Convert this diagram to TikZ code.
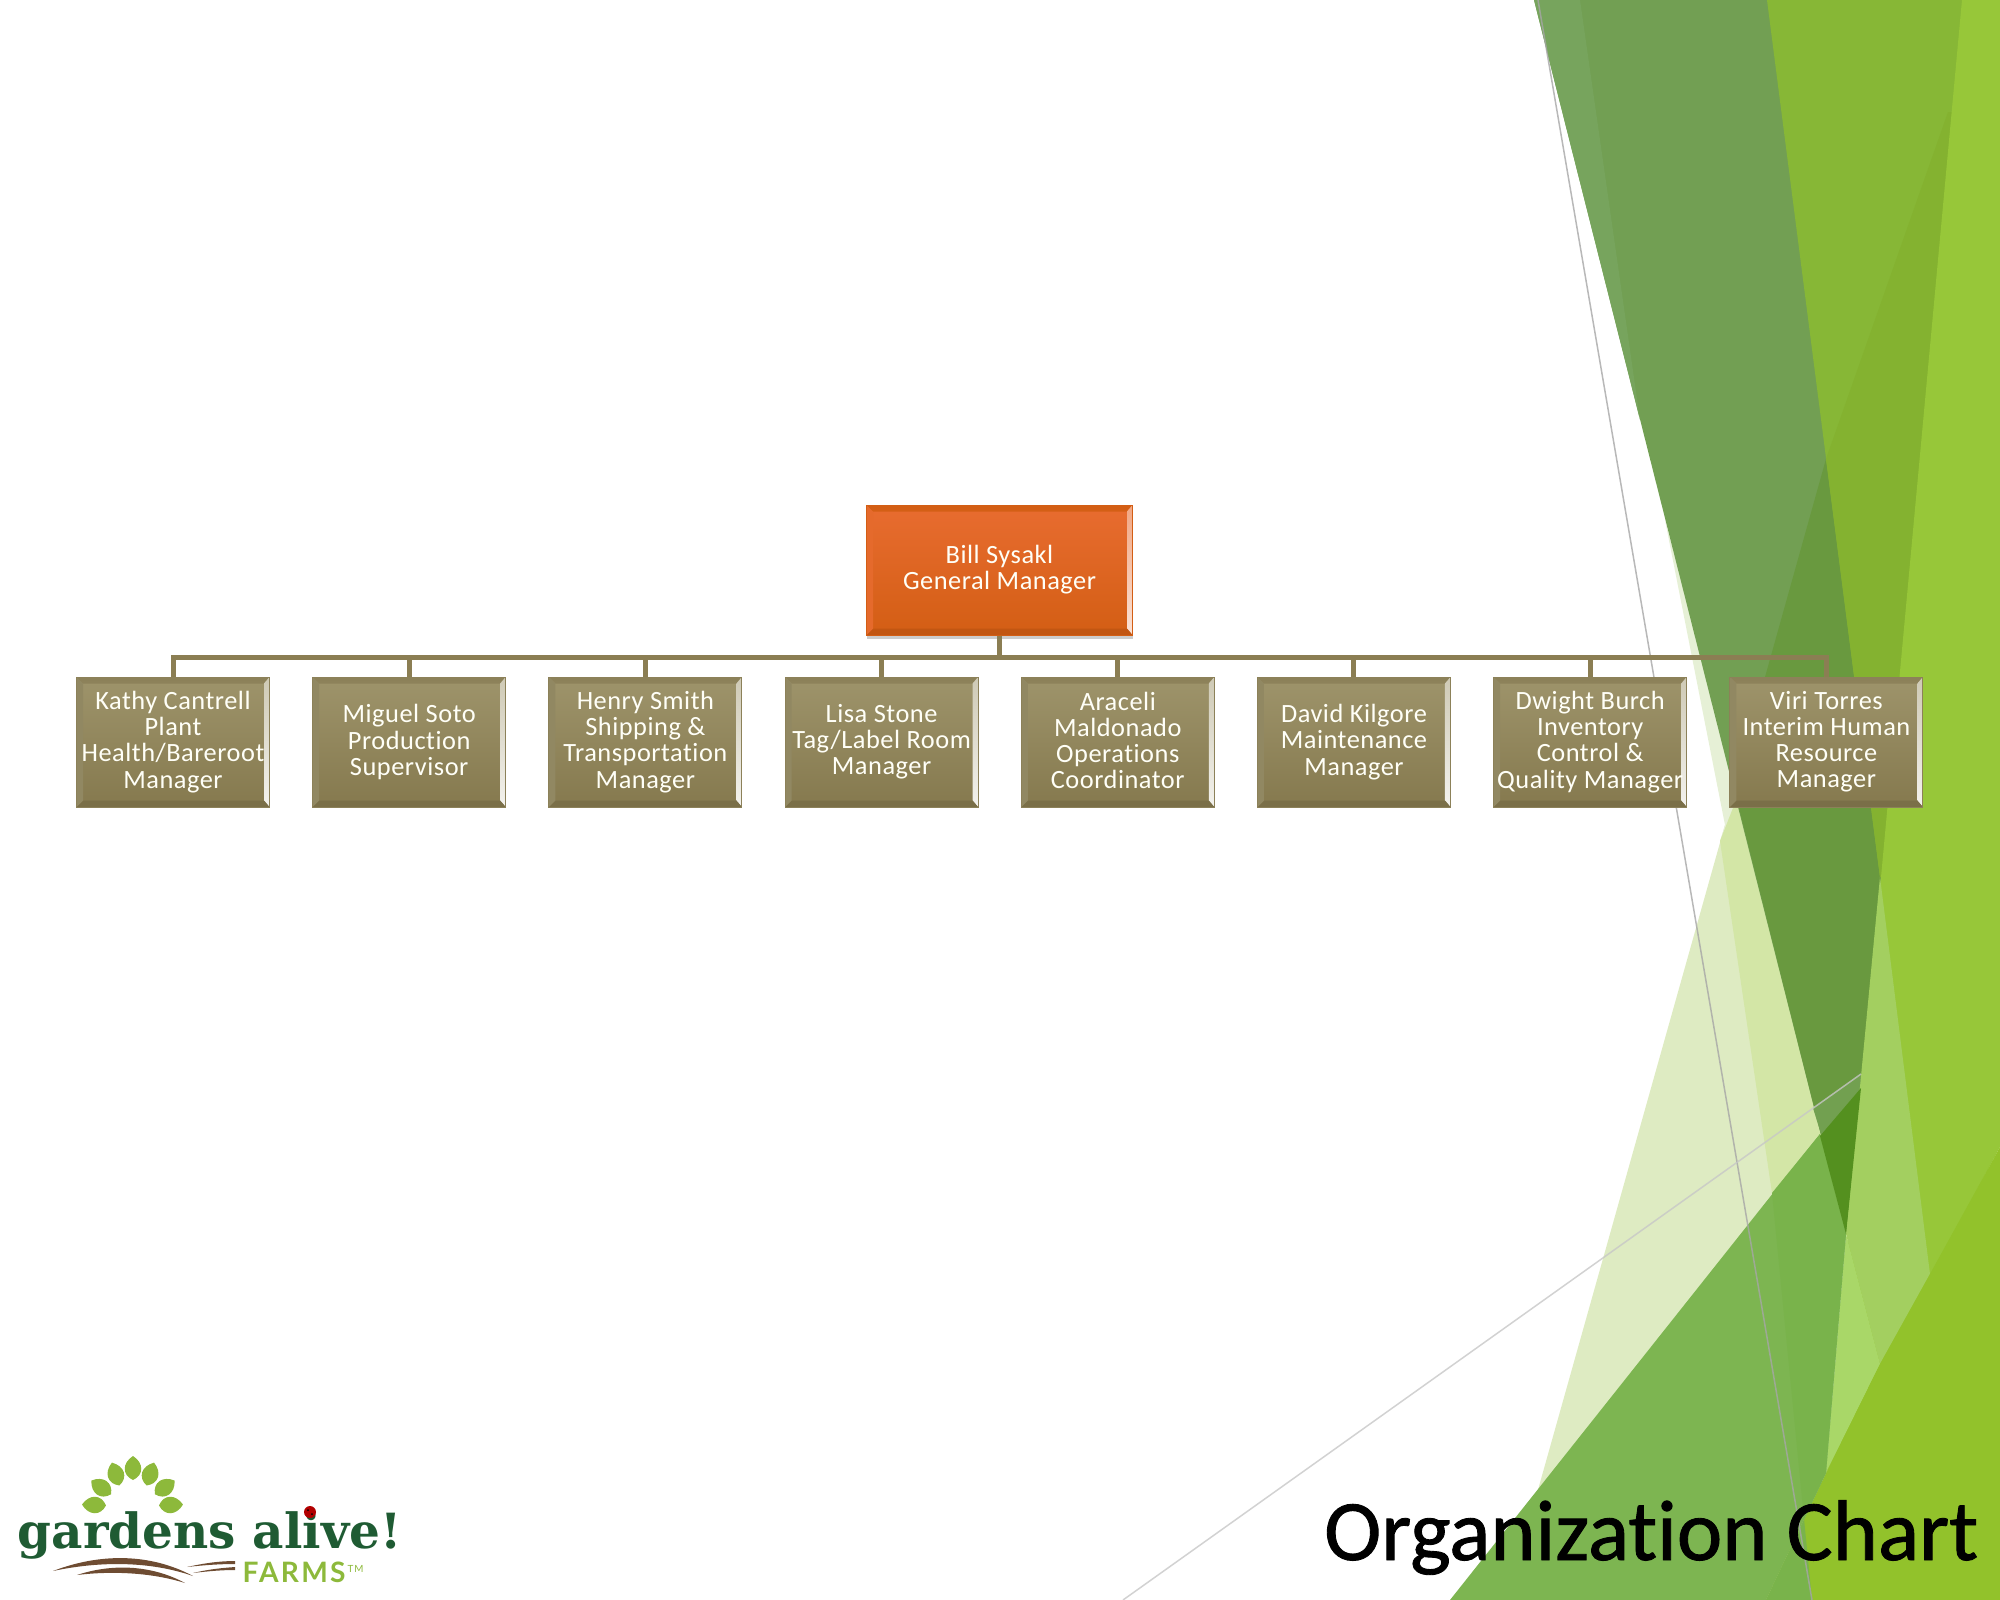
\documentclass[tikz,border=0pt]{standalone}
\usepackage{fontspec}
\setmainfont{Carlito}[LetterSpace=2,Ligatures=NoCommon]
\newfontfamily\titlefont{Carlito}[Ligatures=NoCommon,FakeBold=1]
\newfontfamily\logofont{DejaVu Serif}
\newfontfamily\farmsfont{Lato}[LetterSpace=8]
\newcommand\nodestrut{\rule[-.13\baselineskip]{0pt}{\baselineskip}}
\definecolor{cGoldTop}{HTML}{9E946B}
\definecolor{cGoldBot}{HTML}{85794E}
\definecolor{cGoldEdge}{HTML}{8C8159}
\definecolor{cOrangeTop}{HTML}{E86C30}
\definecolor{cOrangeBot}{HTML}{D35E14}
\definecolor{cLink}{HTML}{8B7E53}
\definecolor{cLeaf}{HTML}{8DB93B}
\definecolor{cLogo}{HTML}{1F5B33}
\definecolor{cSoil}{HTML}{6E4C32}
\definecolor{cPale}{HTML}{DEEBC2}
\definecolor{cPaleUp}{HTML}{E6F0D6}
\definecolor{cPaleIn}{HTML}{D3E6A6}
\definecolor{cDark}{HTML}{729F53}
\definecolor{cDarkEdge}{HTML}{77A45D}
\definecolor{cDarkLow}{HTML}{69993F}
\definecolor{cDarkBand}{HTML}{72A050}
\definecolor{cMid}{HTML}{87B736}
\definecolor{cMidLow}{HTML}{84B230}
\definecolor{cStrip}{HTML}{97C739}
\definecolor{cPatch}{HTML}{A3CF60}
\definecolor{cSliver}{HTML}{A9D768}
\definecolor{cBase}{HTML}{92C22B}
\definecolor{cWedge}{HTML}{7DB551}
\definecolor{cWedgeIn}{HTML}{79B34B}
\definecolor{cTip}{HTML}{54901F}
\usetikzlibrary{positioning,shadows}
\tikzset{
  node-bevel/.style n args={4}{path picture={
    \path[#1] (path picture bounding box.north west) -- (path picture bounding box.north east)
      -- ([xshift=-.55mm,yshift=-.65mm]path picture bounding box.north east)
      -- ([xshift=.65mm,yshift=-.65mm]path picture bounding box.north west) -- cycle;
    \path[#2] (path picture bounding box.north east) -- (path picture bounding box.south east)
      -- ([xshift=-.55mm,yshift=.65mm]path picture bounding box.south east)
      -- ([xshift=-.55mm,yshift=-.65mm]path picture bounding box.north east) -- cycle;
    \path[#3] (path picture bounding box.south east) -- (path picture bounding box.south west)
      -- ([xshift=.65mm,yshift=.65mm]path picture bounding box.south west)
      -- ([xshift=-.55mm,yshift=.65mm]path picture bounding box.south east) -- cycle;
    \path[#4] (path picture bounding box.south west) -- (path picture bounding box.north west)
      -- ([xshift=.65mm,yshift=-.65mm]path picture bounding box.north west)
      -- ([xshift=.65mm,yshift=.65mm]path picture bounding box.south west) -- cycle;
  }},
  node-text/.style={align=center,text=white!97!yellow,inner sep=0pt,
    font=\fontsize{7.5pt}{7.43pt}\selectfont,
    execute at begin node=\nodestrut,execute at end node=\nodestrut},
  node-boss/.style={node-text,minimum width=26.6mm,minimum height=13mm,draw=cOrangeBot,line width=.1mm,
    top color=cOrangeTop,bottom color=cOrangeBot,
    drop shadow={shadow xshift=0mm,shadow yshift=-.4mm,opacity=.2,fill=black},
    node-bevel={top color=cOrangeBot,middle color=cOrangeTop!55!white,bottom color=cOrangeTop}%
      {top color=cOrangeTop!60!white,bottom color=cOrangeTop!20!white}%
      {fill=cOrangeBot!92!black}{fill=cOrangeTop!85!cOrangeBot}},
  node-kid/.style={node-text,minimum width=19.3mm,minimum height=13mm,draw=cGoldEdge,line width=.1mm,
    top color=cGoldTop,bottom color=cGoldBot,
    node-bevel={top color=cGoldEdge,middle color=cGoldTop!50!white,bottom color=cGoldTop}%
      {top color=cGoldTop!50!white,bottom color=cGoldTop!12!white}%
      {fill=cGoldBot!92!black}{fill=cGoldTop!92!black}},
  link/.style={draw=cLink,line width=.5mm},
  leaf/.style={fill=cLeaf,draw=none},
  soil/.style={fill=cSoil,draw=none},
}
\begin{document}
\begin{tikzpicture}[x=.1mm,y=-.1mm,node distance=4.22mm]
  \useasboundingbox (0,0) rectangle (2000,1600);
  % facets, back to front
  \fill[cPale] (1732,800) -- (1507,1600) -- (1810,1600) -- (1846,1234) -- (1740,800) -- cycle;
  \fill[cPaleUp] (1665,520) -- (1725,825) -- (1720,841) -- (1745,810) -- cycle;
  \fill[cPaleIn] (1720,841) -- (1772,1193) -- (1825,1134) -- (1740,790) -- cycle;
  \fill[cDark] (1534,0) -- (1775,0) -- (1890,877) -- (1856,1234) -- (1846,1234) -- cycle;
  \fill[cDarkEdge] (1534,0) -- (1580,0) -- (1640,420) -- cycle;
  \fill[cDarkLow] (1826,459) -- (1890,877) -- (1856,1234) -- (1846,1234) -- (1734,788) -- cycle;
  \fill[cDarkBand] (1813,1108) -- (1865,1072) -- (1861,1088) -- (1822,1137) -- cycle;
  \fill[cMid] (1767,0) -- (1970,0) -- (1885,877) -- (1880,877) -- cycle;
  \fill[cMidLow] (1952,112) -- (1948,112) -- (1826,459) -- (1880,877) -- (1885,877) -- cycle;
  \fill[cStrip] (1962,0) -- (2000,0) -- (2000,1147) -- (1826,1473) -- cycle;
  \fill[cPatch] (1880,877) -- (1930,1274) -- (1880,1364) -- (1846,1234) -- cycle;
  \fill[cSliver] (1846,1234) -- (1880,1364) -- (1826,1473) -- cycle;
  \fill[cBase] (2000,1147) -- (2000,1600) -- (1766,1600) -- (1826,1473) -- (1880,1364) -- (1930,1274) -- cycle;
  \fill[cWedge] (1820,1134) -- (1846,1234) -- (1826,1473) -- (1766,1600) -- (1450,1600) -- cycle;
  \fill[cWedgeIn] (1772,1193) -- (1812,1600) -- (1766,1600) -- (1826,1473) -- (1846,1234) -- (1820,1134) -- cycle;
  \fill[cTip] (1820,1136) -- (1861,1088) -- (1846,1234) -- cycle;
  \draw[black!35,opacity=.8,line width=.15mm] (1538,0) -- (1812,1600);
  \draw[black!22,opacity=.8,line width=.15mm] (1123,1600) -- (1861,1074);

  % chart
  \node[node-boss] (boss) at (999.5,570) {Bill Sysakl\\General Manager};
  \node[node-kid] (k1) at (173,742) {Kathy Cantrell\\Plant\\Health/Bareroot\\Manager};
  \node[node-kid,right=of k1] (k2) {Miguel Soto\\Production\\Supervisor};
  \node[node-kid,right=of k2] (k3) {Henry Smith\\Shipping \&\\Transportation\\Manager};
  \node[node-kid,right=of k3] (k4) {Lisa Stone\\Tag/Label Room\\Manager};
  \node[node-kid,right=of k4] (k5) {Araceli\\Maldonado\\Operations\\Coordinator};
  \node[node-kid,right=of k5] (k6) {David Kilgore\\Maintenance\\Manager};
  \node[node-kid,right=of k6] (k7) {Dwight Burch\\Inventory\\Control \&\\Quality Manager};
  \node[node-kid,right=of k7] (k8) {Viri Torres\\Interim Human\\Resource\\Manager};
  \coordinate[below=2.2mm of boss] (hub);
  \foreach \k in {k1,k2,k3,k4,k5,k6,k7,k8}
    \draw[link] (boss.south) -- (hub) -| (\k.north);

  \node[anchor=base east,inner sep=0pt,font=\titlefont\fontsize{24.5pt}{24.5pt}\selectfont] (title) at (1979,1560) {Organization Chart};

  % logo
  \foreach \x/\y/\r in {133/1469/0,116/1475/18,150/1475/-18,102/1488/55,164/1488/-55,95/1505/88,170/1505/-88}
    \fill[leaf,shift={(\x,\y)},rotate=\r] (0,-13) .. controls (11,-6) and (11,6) .. (0,11) .. controls (-11,6) and (-11,-6) .. (0,-13) -- cycle;
  \node[anchor=base west,inner sep=0pt,text=cLogo,font=\logofont\bfseries\fontsize{13.8pt}{13.8pt}\selectfont] (logo) at (17,1548) {gardens alive!};
  \node[anchor=base west,inner sep=0pt,text=cLeaf,font=\farmsfont\bfseries\fontsize{8pt}{8pt}\selectfont] (farms) at (242,1582) {FARMS};
  \node[anchor=base west,inner sep=0pt,text=cLeaf,font=\farmsfont\fontsize{2.8pt}{2.8pt}\selectfont] (tm) at (347,1572) {TM};
  \fill[red!70!black] (310,1512) circle (6);
  \fill[black] (308,1510) circle (1) (312,1514) circle (1);
  \fill[soil] (53,1571) .. controls (100,1553) and (150,1553) .. (193,1576) .. controls (150,1561) and (100,1561) .. (53,1571) -- cycle;
  \fill[soil] (77,1575) .. controls (110,1564) and (150,1564) .. (185,1583) .. controls (150,1572) and (110,1571) .. (77,1575) -- cycle;
  \fill[soil] (187,1567) .. controls (205,1563) and (220,1561) .. (235,1561) -- (235,1564) .. controls (220,1564) and (205,1565) .. (187,1567) -- cycle;
  \fill[soil] (193,1573) .. controls (210,1569) and (222,1568) .. (235,1567) -- (235,1570) .. controls (222,1570) and (210,1571) .. (193,1573) -- cycle;
\end{tikzpicture}
\end{document}
